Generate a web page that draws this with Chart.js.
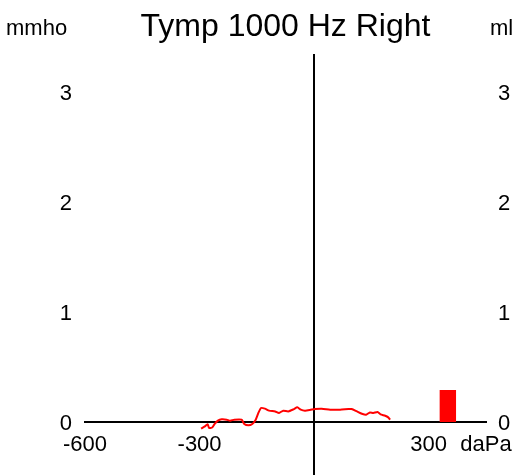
<!DOCTYPE html>
<html>
<head>
<meta charset="utf-8">
<script src="https://cdn.jsdelivr.net/npm/chart.js@4"></script>
<style>
  html, body { margin: 0; padding: 0; background: #fff; }
</style>
</head>
<body>
<canvas id="tympChart" width="523" height="475"></canvas>
<script>
// Pressao (daPa) e admitancia (mmho)
const pressure = [-296, -286, -279, -275, -267, -261, -252, -242, -229, -220,
  -209, -190, -183, -172, -162, -153, -146, -139, -129, -118,
  -102, -92, -81, -68, -54, -44, -35, -24, -11, 2,
  20, 42, 68, 90, 98, 112, 125, 136, 146, 155,
  166, 174, 186, 194, 199];
const admittance = [-0.06, -0.04, -0.02, -0.055, -0.05, -0.02, 0.012, 0.024, 0.021, 0.012,
  0.021, 0.021, -0.018, -0.03, -0.018, 0.021, 0.082, 0.127, 0.121, 0.103,
  0.096, 0.082, 0.103, 0.096, 0.115, 0.133, 0.112, 0.103, 0.109, 0.118,
  0.121, 0.112, 0.112, 0.118, 0.118, 0.096, 0.075, 0.066, 0.087, 0.082,
  0.091, 0.069, 0.057, 0.042, 0.021];

// Volume do canal (ml), barra vermelha
const volumeRange = [328, 372];
const volume = [0.29];

// Eixos
const xTicks = [-600, -300, 300, 450];
const xTickLabels = ['-600', '-300', '300', 'daPa'];
const yTicks = [0, 1, 2, 3];
const xMin = -600, xMax = 450;
const yMin = -0.482, yMax = 3.336;
const leftUnit = 'mmho';
const rightUnit = 'ml';
const chartTitle = 'Tymp 1000 Hz Right';

Chart.defaults.font.family = '"Liberation Sans", Arial, sans-serif';
Chart.defaults.color = '#000';

const curvePoints = pressure.map((p, i) => ({ x: p, y: admittance[i] }));
const barPoints = [
  { x: volumeRange[0], y: 0 },
  { x: volumeRange[0], y: volume[0] },
  { x: volumeRange[1], y: volume[0] },
  { x: volumeRange[1], y: 0 }
];

// textos das unidades no topo
const unitLabels = {
  id: 'unitLabels',
  afterDraw(chart) {
    const ctx = chart.ctx;
    ctx.save();
    ctx.font = '22px "Liberation Sans", Arial, sans-serif';
    ctx.fillStyle = '#000';
    ctx.textBaseline = 'alphabetic';
    ctx.textAlign = 'left';
    ctx.fillText(leftUnit, 6, 35);
    ctx.fillText(rightUnit, 490, 35);
    ctx.restore();
  }
};

function setTicks(values) {
  return scale => { scale.ticks = values.map(v => ({ value: v })); };
}
function noPadding(width) {
  return scale => {
    if (width !== undefined) scale.width = width;
    scale.paddingTop = 0; scale.paddingBottom = 0;
    scale.paddingLeft = 0; scale.paddingRight = 0;
  };
}

const yAxisBase = {
  type: 'linear',
  min: yMin,
  max: yMax,
  afterBuildTicks: setTicks(yTicks),
  grid: { display: false, drawTicks: false },
  border: { display: false }
};

const tympChart = new Chart(document.getElementById('tympChart'), {
  type: 'scatter',
  data: {
    datasets: [{
      label: 'Admitancia',
      data: curvePoints,
      showLine: true,
      borderColor: '#ff0000',
      borderWidth: 2,
      pointRadius: 0,
      tension: 0.2,
      yAxisID: 'y'
    }, {
      label: 'Volume',
      data: barPoints,
      showLine: true,
      fill: 'origin',
      backgroundColor: '#ff0000',
      borderColor: '#ff0000',
      borderWidth: 0,
      pointRadius: 0,
      tension: 0,
      yAxisID: 'y1'
    }]
  },
  options: {
    responsive: false,
    animation: false,
    layout: { padding: 0 },
    plugins: {
      legend: { display: false },
      tooltip: { enabled: false },
      title: {
        display: true,
        text: chartTitle,
        fullSize: false,
        color: '#000',
        font: { size: 32, weight: 'normal' },
        padding: { top: 8, bottom: 8.6 }
      }
    },
    scales: {
      x: {
        type: 'linear',
        min: xMin,
        max: xMax,
        position: { y: 0 },
        afterBuildTicks: setTicks(xTicks),
        afterFit: noPadding(),
        ticks: {
          autoSkip: false,
          maxRotation: 0,
          padding: 10,
          font: { size: 22 },
          callback: (v, i) => xTickLabels[i]
        },
        grid: { display: false, drawTicks: false },
        border: { display: true, color: '#000', width: 2 }
      },
      y: Object.assign({}, yAxisBase, {
        position: 'left',
        afterFit: noPadding(85),
        ticks: { padding: 13, labelOffset: 2, font: { size: 22 } }
      }),
      y1: Object.assign({}, yAxisBase, {
        position: 'right',
        afterFit: noPadding(37),
        ticks: { padding: 12, labelOffset: 2, font: { size: 22 } }
      }),
      yz: Object.assign({}, yAxisBase, {
        position: { x: 0 },
        afterFit: noPadding(),
        ticks: { display: false },
        border: { display: true, color: '#000', width: 2 }
      })
    }
  },
  plugins: [unitLabels]
});
</script>
</body>
</html>
